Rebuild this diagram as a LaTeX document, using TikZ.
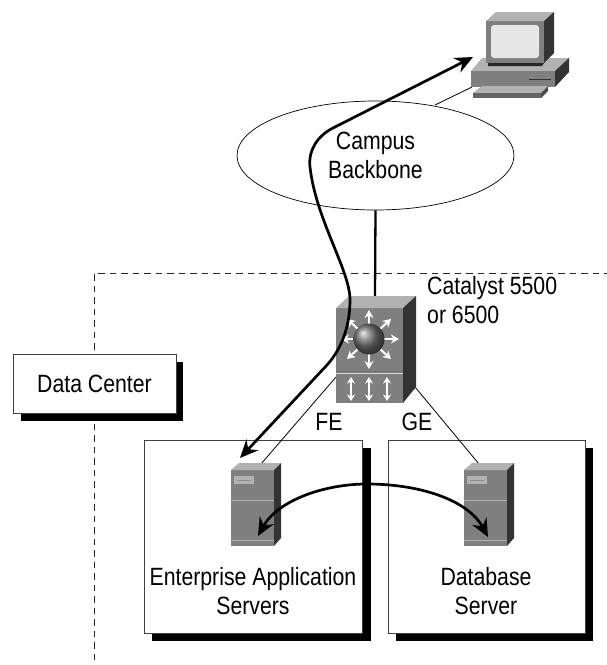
\documentclass[tikz,border=0pt]{standalone}
\usepackage{fontspec}
\setmainfont[FakeStretch=0.85]{Liberation Sans}
\usetikzlibrary{arrows.meta,shapes.geometric,calc}
\definecolor{facegray}{HTML}{7F7F7F}
\definecolor{topgray}{HTML}{B2B2B2}
\definecolor{sidegray}{HTML}{333333}
\definecolor{screengray}{HTML}{E6E6E6}
\tikzset{
  label text/.style={font=\fontsize{25}{29}\selectfont,align=center,inner sep=0pt,text=black},
  framebox/.style={draw=black!75,line width=0.8pt,fill=white,inner sep=0pt},
  shadowbox/.style={fill=black,draw=none},
  thinlink/.style={draw=black,line width=0.8pt},
  thicklink/.style={draw=black,line width=2.3pt},
  flow/.style={draw=black,line width=2.7pt,line join=round},
  flowtips/.style={{Stealth[length=18pt,width=16pt,inset=6pt]}-{Stealth[length=18pt,width=16pt,inset=6pt]}},
  whitearrow/.style={draw=white,line width=2pt,-{Stealth[length=8pt,width=9pt]}},
  whitedouble/.style={draw=white,line width=1.8pt,{Stealth[length=6.5pt,width=8pt]}-{Stealth[length=6.5pt,width=8pt]}},
  borderline/.style={draw=black!85,line width=0.9pt,dash pattern=on 6.5pt off 5pt},
}
\newcommand{\serverIcon}[1]{%
  \begin{scope}[shift={#1}]
    \fill[facegray] (0,0) rectangle (43,76);
    \fill[topgray] (0,0) -- (8,-7) -- (50,-7) -- (43,0) -- cycle;
    \fill[sidegray] (43,0) -- (50,-7) -- (50,68) -- (43,76) -- cycle;
    \fill[topgray] (3,6) rectangle (23,14);
    \draw[black!45,line width=0.6pt] (6,10) -- (20,10);
    \draw[topgray,line width=0.8pt] (0,30) -- (43,30);
    \draw[topgray,line width=0.8pt] (0,70) -- (43,70);
  \end{scope}}
\begin{document}
\begin{tikzpicture}[x=1pt,y=-1pt]
\useasboundingbox (0,0) rectangle (607,665);
% border of the data centre
\coordinate (dcEnd) at (94,660);
\coordinate (dcCorner) at (94,273);
\coordinate (dcRight) at (607,273);
\draw[borderline] (dcEnd) -- (dcCorner) -- (dcRight);
% boxes with shadows
\fill[shadowbox] (21,362) rectangle (183,421);
\node[framebox,minimum width=163pt,minimum height=59pt,label text] (dc) at (94.5,383.5) {\raisebox{-2.5pt}{Data Center}};
\fill[shadowbox] (152,448) rectangle (371,641);
\node[framebox,minimum width=218pt,minimum height=193pt] (appbox) at (253,536.5) {};
\fill[shadowbox] (396,448) rectangle (593,641);
\node[framebox,minimum width=197pt,minimum height=193pt] (dbbox) at (486.5,536.5) {};
% campus
\node[draw=black,line width=0.7pt,ellipse,minimum width=277pt,minimum height=109pt,inner sep=0pt,label text] (campus) at (375.5,155.5) {Campus\\Backbone};
% anchors on icons
\coordinate (swTop) at (375,296);
\coordinate (swFE) at (336,377);
\coordinate (swGE) at (415,387);
\coordinate (pcL) at (472,87);
\coordinate (pcC) at (435,105);
\coordinate (srvA) at (261,464);
\coordinate (srvB) at (479,464);
\draw[thicklink] (campus.south) -- (swTop);
\draw[thinlink] (pcC) -- (pcL);
\draw[thinlink] (swFE) -- (srvA);
\draw[thinlink] (swGE) -- (srvB);
% switch
\fill[facegray] (336,308) rectangle (403,403);
\fill[topgray] (336,308) -- (349,296) -- (416,296) -- (403,308) -- cycle;
\fill[sidegray] (403,308) -- (416,296) -- (416,387) -- (403,403) -- cycle;
\draw[white!85!black,line width=1pt] (336,373) -- (403,373);
\draw[black!55,line width=0.8pt] (336,371.5) -- (403,371.5);
\foreach \dx/\dy in {0/-29,0/30,30/0,-28/0,22/-20,-22/-20,22/20,-22/20}{
  \draw[whitearrow] ($(369,339)!0.5!(369+\dx,339+\dy)$) -- (369+\dx,339+\dy);
}
\shade[ball color=black!55,shading=ball] (369,339) circle (15.5);
\foreach \xx in {351,369,387}{
  \draw[whitedouble] (\xx,377) -- (\xx,401);
}
% PC
\fill[topgray] (482,58) -- (569,58) -- (555,71) -- (471,71) -- cycle;
\fill[facegray] (471,71) rectangle (555,87);
\fill[sidegray] (555,71) -- (569,58) -- (569,72) -- (555,87) -- cycle;
\draw[sidegray,line width=1pt] (529,79) -- (551,79);
\fill[topgray] (482,86) -- (548,86) -- (541,93) -- (473,93) -- cycle;
\fill[facegray!80!black] (473,93) rectangle (541,98);
\fill[facegray!60!black] (541,93) -- (548,86) -- (548,91) -- (541,98) -- cycle;
\fill[black!85] (488,63) -- (544,63) -- (542,66) -- (488,66) -- cycle;
\fill[facegray] (486,21) rectangle (544,63);
\fill[topgray] (486,21) -- (496,12) -- (554,12) -- (544,21) -- cycle;
\fill[sidegray] (544,21) -- (554,12) -- (554,53) -- (544,63) -- cycle;
\fill[screengray,rounded corners=3pt] (491,25) rectangle (539,58);
% servers
\serverIcon{(231,470)}
\serverIcon{(464,470)}
% flows
\coordinate (flowPC) at (473,57);
\coordinate (flowSrv) at (240,458);
\draw[flow,flowtips] (flowSrv) -- (327,365) .. controls (345,345) and (350,320) .. (350,300)
  .. controls (350,270) and (316,220) .. (310,167)
  .. controls (308,150) and (318,135.6) .. (333,128) -- (flowPC);
\coordinate (pairA) at (258,536);
\coordinate (pairB) at (488,537);
\draw[flow,flowtips] (pairA) .. controls (278,500) and (325,484) .. (367,484) .. controls (420,484) and (468,500) .. (pairB);
% texts
\node[label text,anchor=west] (cat) at (427,303.5) {\begin{tabular}{@{}l@{}}Catalyst 5500\\or 6500\end{tabular}};
\node[label text] (fe) at (329,422) {FE};
\node[label text] (ge) at (417,422) {GE};
\node[label text] (applbl) at (253,591.5) {Enterprise Application\\Servers};
\node[label text] (dblbl) at (486,591.5) {Database\\Server};
\end{tikzpicture}
\end{document}
